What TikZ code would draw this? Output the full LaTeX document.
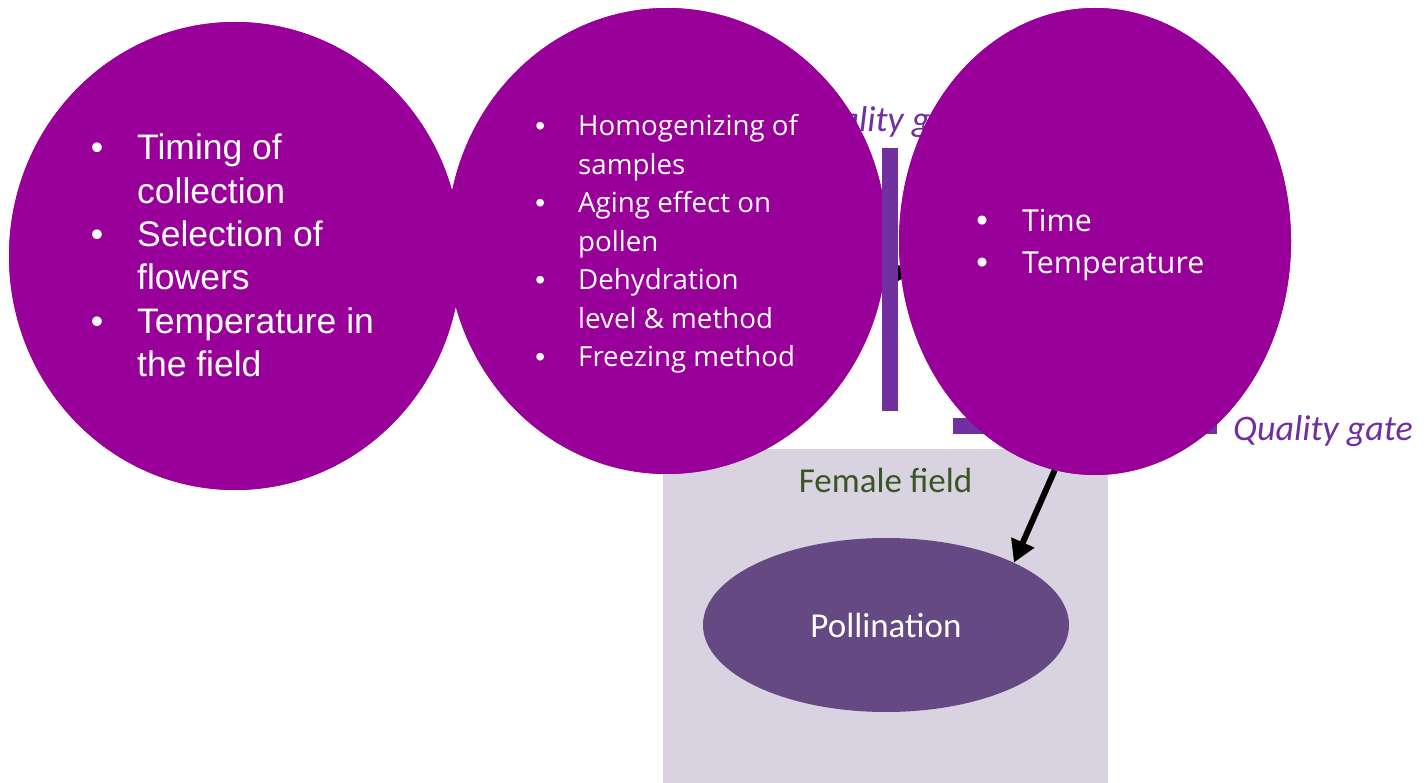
\documentclass[tikz,border=0pt]{standalone}
\usepackage{fontspec}
\setmainfont{Liberation Sans}
\newfontfamily\calfont{Carlito}
\newfontfamily\segfont{Open Sans}
\usetikzlibrary{shapes.geometric,arrows.meta}

\definecolor{blob}{RGB}{153,0,153}
\definecolor{gate}{RGB}{112,48,160}
\definecolor{fieldbg}{RGB}{217,210,225}
\definecolor{pollen}{RGB}{100,73,130}
\definecolor{fieldtxt}{RGB}{56,86,35}

% list bullet centred on its column start
\newcommand{\listbul}[1]{\makebox[0pt]{\rmfamily\fontsize{#1}{#1}\selectfont\textbullet}}

\begin{document}
\begin{tikzpicture}[x=1pt,y=-1pt,
  blob/.style={ellipse, fill=blob, draw=none, inner sep=0pt},
  listtext/.style={anchor=base west, inner sep=0pt, text=white},
  gatebar/.style={fill=gate, draw=none},
  gatelabel/.style={anchor=base west, inner sep=0pt, text=gate,
    font=\calfont\itshape\fontsize{36}{43}\selectfont},
  conn/.style={draw=black, line width=6pt, -{Triangle[length=22pt,width=24pt]}}]

% canvas
\fill[white] (0,0) rectangle (1424,783);
\useasboundingbox (0,0) rectangle (1424,783);

% label of the first gate, mostly covered by the circles
\node[gatelabel] (qgA) at (798,132) {Quality gate};

% female field area and pollination
\node[fill=fieldbg, draw=none, inner sep=0pt, anchor=north west,
  minimum width=445pt, minimum height=334pt] (field) at (663,449) {};
\node[ellipse, fill=pollen, draw=none, inner sep=0pt, text=white,
  minimum width=366pt, minimum height=174pt,
  font=\calfont\fontsize{35}{42}\selectfont] (pol) at (886,625) {Pollination};

% circle outlines (anchors for the connectors)
\coordinate (tipA) at (912,273);
\path (235,256) node[blob, minimum width=452pt, minimum height=468pt] (c1) {};
\path (667,241) node[blob, minimum width=440pt, minimum height=466pt] (c2) {};
\path (1095,241.5) node[blob, minimum width=392pt, minimum height=467pt] (c3) {};

% connectors beneath the circles
\draw[conn] (c2.center |- tipA) -- (tipA);
\draw[conn] (c3.260) -- (pol.26);

% second gate bar
\fill[gatebar] (953,418) rectangle (1217,434);

% circles painted again over the connectors
\fill[blob] (c1.center) ellipse [x radius=226pt, y radius=234pt];
\fill[blob] (c2.center) ellipse [x radius=220pt, y radius=233pt];

% first gate bar
\fill[gatebar] (882,148) rectangle (898,411);

\fill[blob] (c3.center) ellipse [x radius=196pt, y radius=233.5pt];

% list texts
\node[listtext, font=\fontsize{35.5}{43.3}\selectfont] (t1) at (97,160)
  {\begin{tabular}[t]{@{}p{40pt}@{}l@{}}
   \listbul{35.5} & Timing of\\
                  & collection\\
   \listbul{35.5} & Selection of\\
                  & flowers\\
   \listbul{35.5} & Temperature in\\
                  & the field
   \end{tabular}};

\node[listtext, font=\segfont\fontsize{27.7}{38.5}\selectfont] (t2) at (540,136)
  {\begin{tabular}[t]{@{}p{38pt}@{}l@{}}
   \listbul{28} & Homogenizing of\\
                & samples\\
   \listbul{28} & Aging effect on\\
                & pollen\\
   \listbul{28} & Dehydration\\
                & level \& method\\
   \listbul{28} & Freezing method
   \end{tabular}};

\node[listtext, font=\segfont\fontsize{30.3}{41.7}\selectfont] (t3) at (982,232)
  {\begin{tabular}[t]{@{}p{40pt}@{}l@{}}
   \listbul{33} & Time\\
   \listbul{33} & Temperature
   \end{tabular}};

% labels
\node[anchor=base, inner sep=0pt, text=fieldtxt,
  font=\calfont\fontsize{35}{42}\selectfont] (ff) at (885.5,492.7) {Female field};
\node[gatelabel] (qgB) at (1233,440) {Quality gate};

\end{tikzpicture}
\end{document}
